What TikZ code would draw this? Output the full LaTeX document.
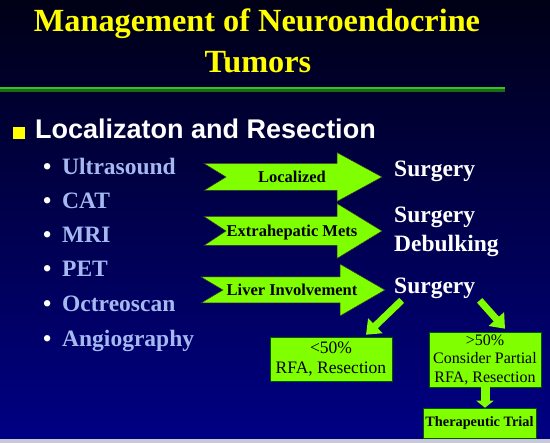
\documentclass[tikz,border=0pt]{standalone}
\usepackage{fontspec}
\setmainfont{Liberation Serif}
\setsansfont{Liberation Sans}
\usepackage{tikz}
\usetikzlibrary{arrows.meta}
\usetikzlibrary{positioning}
\definecolor{fundotopo}{RGB}{0,0,22}
\definecolor{fundomeio}{RGB}{0,0,92}
\definecolor{fundobase}{RGB}{0,0,132}
\definecolor{verdelima}{RGB}{128,255,0}
\definecolor{verdeclaro}{RGB}{60,190,40}
\definecolor{verdeescuro}{RGB}{25,110,20}
\definecolor{azulitem}{RGB}{165,185,240}
\definecolor{amarelo}{RGB}{255,255,0}
\definecolor{rodape}{RGB}{200,200,215}
\newcommand{\tam}[2]{\fontsize{#1}{#2}\selectfont}
% seta larga com cauda entalhada: L, H, T, c, h, w
\newcommand{\setagrande}[6]{%
  \filldraw[setabloco] (#1,{#4-#5}) -- (#2,{#4-#5}) -- (#2,{#4-#6}) -- (#3,#4)
    -- (#2,{#4+#6}) -- (#2,{#4+#5}) -- (#1,{#4+#5}) -- ({#1+22},#4) -- cycle;}
\tikzset{
  titulo/.style={inner sep=0pt, anchor=base, text=amarelo, font=\bfseries\tam{32.3}{40}},
  topico/.style={inner sep=0pt, anchor=base west, text=white, font=\sffamily\bfseries\tam{27}{30}},
  item/.style={inner sep=0pt, anchor=base west, text=azulitem, font=\bfseries\tam{23.5}{28}},
  setabloco/.style={fill=verdelima, draw=black!80, line width=0.5pt},
  rotulo/.style={inner sep=0pt, anchor=base, font=\bfseries\tam{16.5}{18}},
  resultado/.style={inner sep=0pt, anchor=base west, text=white, font=\bfseries\tam{23.5}{29}},
  caixa/.style={draw=green!35!black, line width=0.5pt, fill=verdelima, align=center, inner sep=0pt, minimum width=#1},
  caixa/.default=112pt,
  setinha/.style={draw=verdelima, line width=7pt, -{Triangle[width=20pt,length=13pt]}},
  setabaixo/.style={draw=verdelima, line width=9pt, -{Triangle[width=17pt,length=7pt]}},
}
\newcommand{\marca}{\makebox[19pt][l]{\textcolor{white}{\textbullet}}}

\begin{document}
\begin{tikzpicture}[x=1pt, y=-1pt]
  \useasboundingbox (0,0) rectangle (550,443);
  \shade[top color=fundotopo, middle color=fundomeio, bottom color=fundobase] (0,0) rectangle (550,439);
  \fill[rodape] (0,439) rectangle (550,443);

  \node[titulo] (tit1) at (257,32) {Management of Neuroendocrine};
  \node[titulo] (tit2) at (258,73) {Tumors};
  \fill[verdeclaro] (0,87) rectangle (505,89.5);
  \fill[verdeescuro] (0,89.5) rectangle (505,92);

  \node[fill=amarelo, minimum size=12pt, inner sep=0pt] (marcador) at (19,133) {};
  \node[topico] (topico) at (35,139) {Localizaton and Resection};
  \node[item] (ultra) at (43,175) {\marca Ultrasound};
  \node[item] (cat) at (43,209) {\marca CAT};
  \node[item] (mri) at (43,243) {\marca MRI};
  \node[item] (pet) at (43,277) {\marca PET};
  \node[item] (octreo) at (43,312) {\marca Octreoscan};
  \node[item] (angio) at (43,347) {\marca Angiography};

  \setagrande{204}{337}{382}{177}{13.5}{24.5}
  \node[rotulo] (localizado) at (292,183) {Localized};
  \setagrande{204}{337}{382}{231}{14.5}{27.5}
  \node[rotulo] (extra) at (292,237) {Extrahepatic Mets};
  \setagrande{201}{340}{385}{290}{13}{26}
  \node[rotulo] (figado) at (292,296) {Liver Involvement};

  \node[resultado] (cir1) at (394,177) {Surgery};
  \node[resultado] (cir2) at (394,223) {Surgery};
  \node[resultado] (debulk) at (394,252) {Debulking};
  \node[resultado] (cir3) at (394,294) {Surgery};

  \node[caixa=122pt, minimum height=44pt, font=\tam{17.5}{20}] (menor) at (331,359) {<50\%\\RFA, Resection};
  \node[caixa=112pt, minimum height=55pt, font=\tam{16}{18.5}] (maior) at (485,359.5) {>50\%\\Consider Partial\\RFA, Resection};
  \node[caixa=113pt, minimum height=30pt, font=\bfseries\tam{14.3}{16}] (ensaio) at (479.5,423) {Therapeutic Trial};

  \draw[setinha] ([xshift=-33pt,yshift=-1pt]cir3.south) -- ([xshift=35pt,yshift=2pt]menor.north);
  \draw[setinha] ([xshift=45pt,yshift=-1pt]cir3.south) -- ([xshift=20pt,yshift=3pt]maior.north);
  \draw[setabaixo] (maior.south) -- (maior.south |- ensaio.north);
\end{tikzpicture}
\end{document}
